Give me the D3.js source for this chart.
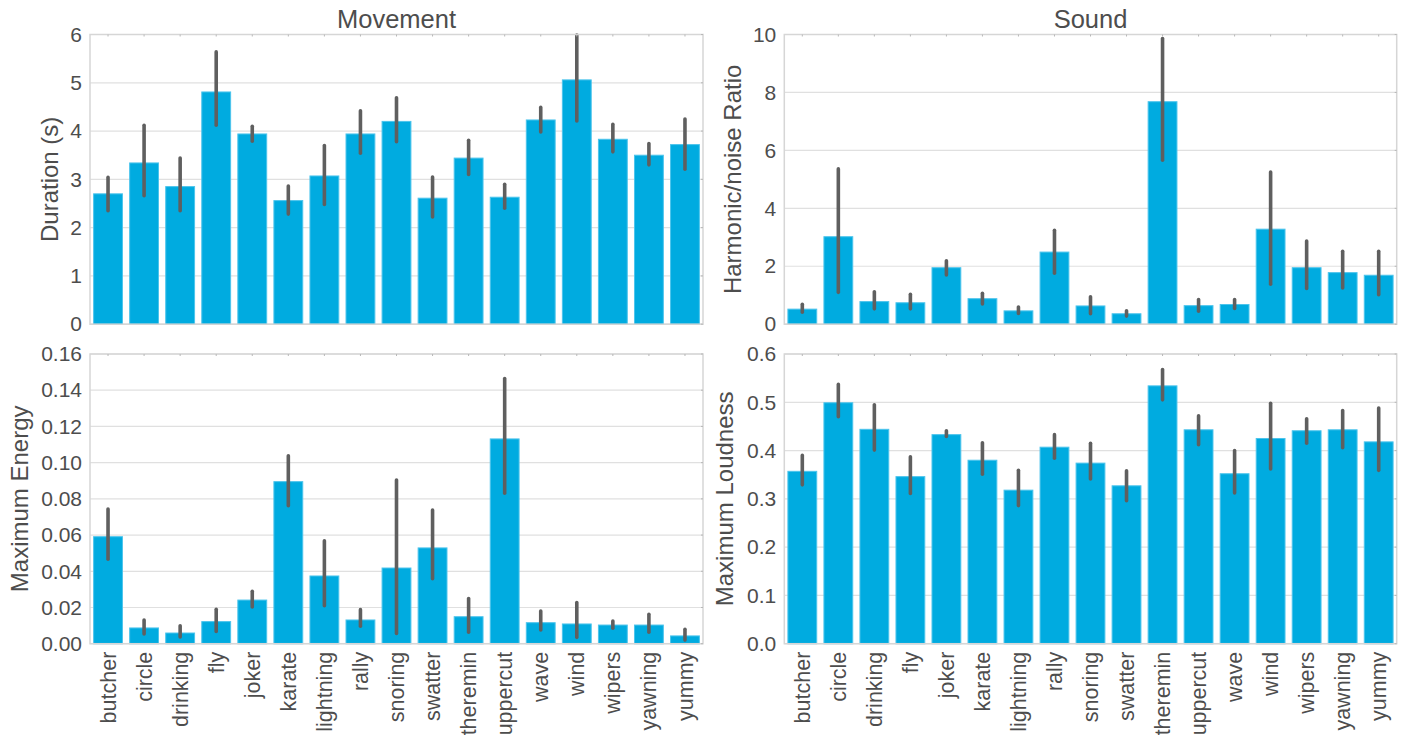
<!DOCTYPE html>
<html>
<head>
<meta charset="utf-8">
<script src="https://cdn.jsdelivr.net/npm/d3@7"></script>
<style>
  body { margin: 0; background: #fff; }
  text { font-family: "Liberation Sans", Arial, sans-serif; fill: #4d4d4d; }
</style>
</head>
<body>
<div id="chart"></div>
<script>
const categories = ["butcher", "circle", "drinking", "fly", "joker", "karate", "lightning", "rally",
  "snoring", "swatter", "theremin", "uppercut", "wave", "wind", "wipers", "yawning", "yummy"];

// Movement - duration (s)
const duration = [2.70, 3.34, 2.85, 4.81, 3.94, 2.56, 3.07, 3.94, 4.20, 2.61, 3.44, 2.63, 4.23, 5.06, 3.83, 3.50, 3.72];
const durationLo = [2.35, 2.66, 2.35, 4.12, 3.79, 2.28, 2.48, 3.54, 3.78, 2.22, 3.10, 2.40, 3.98, 4.21, 3.57, 3.30, 3.21];
const durationHi = [3.04, 4.12, 3.44, 5.64, 4.10, 2.86, 3.70, 4.42, 4.69, 3.05, 3.81, 2.90, 4.49, 5.99, 4.14, 3.74, 4.25];

// Sound - harmonic/noise ratio
const hnr = [0.52, 3.02, 0.78, 0.74, 1.95, 0.88, 0.46, 2.49, 0.63, 0.36, 7.68, 0.64, 0.68, 3.28, 1.95, 1.78, 1.69];
const hnrLo = [0.41, 1.10, 0.53, 0.53, 1.70, 0.70, 0.37, 1.76, 0.36, 0.28, 5.66, 0.45, 0.54, 1.38, 1.23, 1.25, 1.02];
const hnrHi = [0.69, 5.36, 1.12, 1.03, 2.19, 1.07, 0.59, 3.24, 0.95, 0.46, 9.86, 0.85, 0.85, 5.25, 2.87, 2.52, 2.52];

// Movement - maximum energy
const energy = [0.0591, 0.0087, 0.0059, 0.0122, 0.0241, 0.0895, 0.0374, 0.0131, 0.0418, 0.0529, 0.0149, 0.1131, 0.0116, 0.0109, 0.0103, 0.0103, 0.0043];
const energyLo = [0.0466, 0.0054, 0.0037, 0.0068, 0.0203, 0.0762, 0.0210, 0.0096, 0.0057, 0.0359, 0.0063, 0.0831, 0.0076, 0.0035, 0.0085, 0.0063, 0.0020];
const energyHi = [0.0744, 0.0131, 0.0099, 0.0190, 0.0289, 0.1038, 0.0569, 0.0188, 0.0904, 0.0738, 0.0249, 0.1464, 0.0181, 0.0227, 0.0125, 0.0162, 0.0080];

// Sound - maximum loudness
const loudness = [0.357, 0.499, 0.444, 0.346, 0.433, 0.380, 0.318, 0.407, 0.374, 0.327, 0.534, 0.443, 0.352, 0.425, 0.441, 0.443, 0.418];
const loudnessLo = [0.329, 0.470, 0.401, 0.311, 0.429, 0.351, 0.286, 0.384, 0.341, 0.296, 0.505, 0.412, 0.312, 0.362, 0.415, 0.406, 0.359];
const loudnessHi = [0.390, 0.537, 0.495, 0.387, 0.441, 0.416, 0.359, 0.433, 0.415, 0.358, 0.568, 0.472, 0.400, 0.498, 0.466, 0.483, 0.488];

const W = 1405, H = 740;
const svg = d3.select("#chart").append("svg")
  .attr("width", W).attr("height", H);

const panels = [
  { title: "Movement", ylabel: "Duration (s)", mean: duration, lo: durationLo, hi: durationHi,
    ymax: 6, ticks: [0, 1, 2, 3, 4, 5, 6], fmt: d3.format("d"),
    x0: 90, x1: 703, y0: 34.5, y1: 324.2, labX: 50, xlabels: false },
  { title: "Sound", ylabel: "Harmonic/noise Ratio", mean: hnr, lo: hnrLo, hi: hnrHi,
    ymax: 10, ticks: [0, 2, 4, 6, 8, 10], fmt: d3.format("d"),
    x0: 784.3, x1: 1396.7, y0: 34.5, y1: 324.2, labX: 733, xlabels: false },
  { title: null, ylabel: "Maximum Energy", mean: energy, lo: energyLo, hi: energyHi,
    ymax: 0.16, ticks: [0, 0.02, 0.04, 0.06, 0.08, 0.10, 0.12, 0.14, 0.16], fmt: d3.format(".2f"),
    x0: 90, x1: 703, y0: 354, y1: 643.7, labX: 20, xlabels: true },
  { title: null, ylabel: "Maximum Loudness", mean: loudness, lo: loudnessLo, hi: loudnessHi,
    ymax: 0.6, ticks: [0, 0.1, 0.2, 0.3, 0.4, 0.5, 0.6], fmt: d3.format(".1f"),
    x0: 784.3, x1: 1396.7, y0: 354, y1: 643.7, labX: 725, xlabels: true }
];

panels.forEach(function (p) {
  const g = svg.append("g");

  const x = d3.scaleBand()
    .domain(categories)
    .range([p.x0, p.x1])
    .paddingInner(0.2)
    .paddingOuter(0.1);

  const y = d3.scaleLinear()
    .domain([0, p.ymax])
    .range([p.y1, p.y0]);

  // grid
  g.selectAll(".grid")
    .data(p.ticks)
    .enter().append("line")
    .attr("x1", p.x0).attr("x2", p.x1)
    .attr("y1", d => y(d)).attr("y2", d => y(d))
    .attr("stroke", "#e0e0e0")
    .attr("stroke-width", 1.2);

  // y axis labels
  const yAxis = d3.axisLeft(y).tickValues(p.ticks).tickFormat(p.fmt).tickSize(0).tickPadding(8);
  const ya = g.append("g")
    .attr("transform", "translate(" + p.x0 + ",0)")
    .call(yAxis);
  ya.select(".domain").remove();
  ya.selectAll("text")
    .style("font-size", "21px")
    .attr("font-family", null);

  // bars
  const idx = d3.range(categories.length);
  g.selectAll(".bar")
    .data(idx)
    .enter().append("rect")
    .attr("x", i => x(categories[i]))
    .attr("width", x.bandwidth())
    .attr("y", i => y(p.mean[i]))
    .attr("height", i => y(0) - y(p.mean[i]))
    .attr("fill", "#00abe0")
    .attr("stroke", "#4cc4ec")
    .attr("stroke-width", 1);

  // error bars
  g.selectAll(".err")
    .data(idx)
    .enter().append("line")
    .attr("x1", i => x(categories[i]) + x.bandwidth() / 2)
    .attr("x2", i => x(categories[i]) + x.bandwidth() / 2)
    .attr("y1", i => y(p.lo[i]))
    .attr("y2", i => y(p.hi[i]))
    .attr("stroke", "#5f5f5f")
    .attr("stroke-width", 3.6)
    .attr("stroke-linecap", "round");

  // frame
  g.append("rect")
    .attr("x", p.x0).attr("y", p.y0)
    .attr("width", p.x1 - p.x0).attr("height", p.y1 - p.y0)
    .attr("fill", "none")
    .attr("stroke", "#d6d6d6")
    .attr("stroke-width", 1.5);

  // little ticks on top and right spines
  g.selectAll(".tt")
    .data(categories)
    .enter().append("line")
    .attr("x1", d => x(d) + x.bandwidth() / 2)
    .attr("x2", d => x(d) + x.bandwidth() / 2)
    .attr("y1", p.y0).attr("y2", p.y0 + 2)
    .attr("stroke", "#b8b8b8");
  g.selectAll(".rt")
    .data(p.ticks)
    .enter().append("line")
    .attr("x1", p.x1 - 2).attr("x2", p.x1)
    .attr("y1", d => y(d)).attr("y2", d => y(d))
    .attr("stroke", "#b8b8b8");

  // x labels
  if (p.xlabels) {
    g.selectAll(".xl")
      .data(categories)
      .enter().append("text")
      .attr("transform", d => "translate(" + (x(d) + x.bandwidth() / 2) + "," + (p.y1 + 8) + ") rotate(-90)")
      .attr("dy", "0.35em")
      .attr("text-anchor", "end")
      .style("font-size", "21.5px")
      .text(d => d);
  }

  // y label
  g.append("text")
    .attr("transform", "translate(" + p.labX + "," + ((p.y0 + p.y1) / 2) + ") rotate(-90)")
    .attr("dy", "0.35em")
    .attr("text-anchor", "middle")
    .style("font-size", "24px")
    .text(p.ylabel);

  // title
  if (p.title) {
    g.append("text")
      .attr("x", (p.x0 + p.x1) / 2)
      .attr("y", 28)
      .attr("text-anchor", "middle")
      .style("font-size", "25.5px")
      .text(p.title);
  }
});
</script>
</body>
</html>
